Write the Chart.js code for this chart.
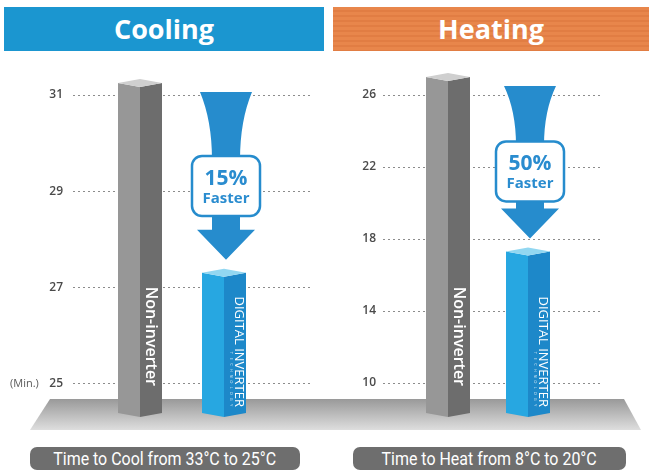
<!DOCTYPE html>
<html>
<head>
<meta charset="utf-8">
<script src="https://cdn.jsdelivr.net/npm/chart.js@4.4.0/dist/chart.umd.min.js"></script>
<style>
  body { margin: 0; background: #fff; }
  #wrap { position: relative; width: 649px; height: 470px; overflow: hidden; font-family: "Open Sans", sans-serif; }
  .head { position: absolute; top: 7px; height: 44px; color: #fff; font-weight: 700; font-size: 27px; line-height: 43px; text-align: center; }
  #cool-head { left: 4px; width: 320px; background: #1b96d0; }
  #heat-head { left: 333px; width: 316px; background: repeating-linear-gradient(180deg, #e8864b 0 3px, #e17d43 3px 5px); }
  #floor { position: absolute; left: 0; top: 399px; width: 649px; height: 31px;
    background: linear-gradient(#999, #dedede);
    clip-path: polygon(50px 0, 624px 0, 641px 100%, 30px 100%); }
  .caption { position: absolute; top: 447px; height: 23px; border-radius: 7px; background: #6e6e6e; color: #fff;
    font-family: "Liberation Sans Narrow", "Roboto", sans-serif; font-size: 19px; line-height: 23px; text-align: center; white-space: nowrap; }
  .caption span { display: inline-block; transform: scaleX(0.84); }
  #cool-cap { left: 30px; width: 270px; }
  #heat-cap { left: 353px; width: 273px; }
  canvas { position: absolute; left: 0; top: 0; }
</style>
</head>
<body>
<div id="wrap">
  <div class="head" id="cool-head">Cooling</div>
  <div class="head" id="heat-head">Heating</div>
  <div id="floor"></div>
  <div class="caption" id="cool-cap"><span>Time to Cool from 33°C to 25°C</span></div>
  <div class="caption" id="heat-cap"><span>Time to Heat from 8°C to 20°C</span></div>
  <canvas id="coolChart" width="649" height="470"></canvas>
  <canvas id="heatChart" width="649" height="470"></canvas>
</div>
<script>
var barLabels = ["Non-inverter", "DIGITAL INVERTER"];
var coolValues = [31.25, 27.3];
var heatValues = [27.0, 17.3];
var coolTicks = [25, 27, 29, 31];
var heatTicks = [10, 14, 18, 22, 26];
var fasterLabels = ["15%", "50%"];
var fasterWord = "Faster";
var unitLabel = "(Min.)";
var subBrand = "TECHNOLOGY";

Chart.defaults.font.family = "'Open Sans', sans-serif";

function drawArrow(ctx, cx, yTop, yTip, pct) {
  var H = yTip - yTop;
  var boxTop = yTop + 0.56 * H - 30;
  var headBase = yTip - 30;
  var blue = "#268ccd";
  ctx.save();
  ctx.fillStyle = blue;
  ctx.beginPath();
  ctx.moveTo(cx - 26, yTop);
  ctx.lineTo(cx + 26, yTop);
  ctx.quadraticCurveTo(cx + 14, yTop + (boxTop - yTop) * 0.45, cx + 14, boxTop + 4);
  ctx.lineTo(cx + 14, headBase);
  ctx.lineTo(cx + 29, headBase);
  ctx.lineTo(cx, yTip);
  ctx.lineTo(cx - 29, headBase);
  ctx.lineTo(cx - 14, headBase);
  ctx.lineTo(cx - 14, boxTop + 4);
  ctx.quadraticCurveTo(cx - 14, yTop + (boxTop - yTop) * 0.45, cx - 26, yTop);
  ctx.closePath();
  ctx.fill();

  ctx.beginPath();
  ctx.roundRect(cx - 34, boxTop, 68, 60, 10);
  ctx.fillStyle = "#fff";
  ctx.fill();
  ctx.lineWidth = 2.5;
  ctx.strokeStyle = blue;
  ctx.stroke();

  ctx.fillStyle = "#2a8ccf";
  ctx.textAlign = "center";
  ctx.textBaseline = "alphabetic";
  ctx.font = "700 21px 'Open Sans'";
  ctx.fillText(pct, cx, boxTop + 29);
  ctx.font = "700 15px 'Open Sans'";
  ctx.fillText(fasterWord, cx, boxTop + 47);
  ctx.restore();
}

var prismPlugin = {
  id: "prism",
  beforeDatasetsDraw: function (chart, args, opts) {
    var ctx = chart.ctx;
    var y = chart.scales.y;
    ctx.save();
    ctx.strokeStyle = "#8c8c8c";
    ctx.lineWidth = 1;
    ctx.setLineDash([2, 3]);
    y.ticks.forEach(function (t) {
      var py = Math.round(y.getPixelForValue(t.value)) + 0.5;
      ctx.beginPath();
      ctx.moveTo(opts.gridFrom, py);
      ctx.lineTo(opts.gridTo, py);
      ctx.stroke();
    });
    ctx.setLineDash([]);
    if (opts.unit) {
      ctx.fillStyle = "#5a5a5a";
      ctx.font = "11px 'Open Sans'";
      ctx.textAlign = "left";
      ctx.textBaseline = "middle";
      ctx.fillText(opts.unit, 10, y.getPixelForValue(y.ticks[0].value));
    }
    ctx.restore();
  },
  afterDatasetsDraw: function (chart, args, opts) {
    var ctx = chart.ctx;
    var bars = chart.getDatasetMeta(0).data;
    var faces = [["#979797", "#6d6d6d", "#cfcfcf"], ["#27a7e1", "#1d88c9", "#92d7f1"]];
    var d = 4;
    bars.forEach(function (bar, i) {
      var p = bar.getProps(["x", "y", "base", "width"], true);
      var x0 = p.x - p.width / 2, x1 = p.x + p.width / 2, xc = p.x;
      ctx.save();
      ctx.fillStyle = faces[i][0];
      ctx.beginPath();
      ctx.moveTo(x0, p.y); ctx.lineTo(xc, p.y + d); ctx.lineTo(xc, p.base); ctx.lineTo(x0, p.base - d);
      ctx.closePath(); ctx.fill();
      ctx.fillStyle = faces[i][1];
      ctx.beginPath();
      ctx.moveTo(xc, p.y + d); ctx.lineTo(x1, p.y); ctx.lineTo(x1, p.base - d); ctx.lineTo(xc, p.base);
      ctx.closePath(); ctx.fill();
      ctx.fillStyle = faces[i][2];
      ctx.beginPath();
      ctx.moveTo(x0, p.y); ctx.lineTo(xc, p.y - d); ctx.lineTo(x1, p.y); ctx.lineTo(xc, p.y + d);
      ctx.closePath(); ctx.fill();

      // label running down the right face
      ctx.fillStyle = "#fff";
      ctx.textAlign = "right";
      ctx.textBaseline = "middle";
      if (i === 0) {
        ctx.translate(xc + 10.5, p.base - 31);
        ctx.rotate(Math.PI / 2);
        ctx.font = "600 16px 'Open Sans'";
        ctx.fillText(chart.data.labels[i], 0, 0);
      } else {
        ctx.translate(xc + 15, p.base - 10);
        ctx.rotate(Math.PI / 2);
        ctx.font = "13px 'Open Sans'";
        ctx.fillText(chart.data.labels[i], 0, 0);
        ctx.font = "4px 'Open Sans'";
        ctx.fillStyle = "rgba(255,255,255,0.8)";
        ctx.textAlign = "center";
        for (var k = 0; k < subBrand.length; k++) {
          ctx.fillText(subBrand[k], -2 - (subBrand.length - 1 - k) * 5.8, 7.5);
        }
      }
      ctx.restore();
    });
    drawArrow(ctx, bars[1].x + 2, bars[0].y + 9, bars[1].y - 13, opts.pct);
  }
};

function makeChart(id, values, ticks, min, max, pad, axisWidth, labelPad, extra) {
  return new Chart(document.getElementById(id), {
    type: "bar",
    data: {
      labels: barLabels,
      datasets: [{
        data: values,
        base: min,
        backgroundColor: "rgba(0,0,0,0)",
        borderWidth: 0,
        barThickness: 44
      }]
    },
    options: {
      responsive: false,
      animation: false,
      layout: { padding: pad },
      plugins: {
        legend: { display: false },
        tooltip: { enabled: false },
        prism: extra
      },
      scales: {
        x: { display: false, offset: true },
        y: {
          min: min,
          max: max,
          afterBuildTicks: function (s) {
            s.ticks = ticks.map(function (v) { return { value: v }; });
          },
          afterFit: function (s) { s.width = axisWidth; },
          grid: { display: false, drawTicks: false },
          border: { display: false },
          ticks: {
            padding: labelPad,
            color: "#4a4a4a",
            font: { size: 12, weight: "600" }
          }
        }
      }
    },
    plugins: [prismPlugin]
  });
}

makeChart("coolChart", coolValues, coolTicks, 24.3, 31.5,
  { top: 71, bottom: 53, left: 0, right: 383 }, 98, 35,
  { gridFrom: 73, gridTo: 310, unit: unitLabel, pct: fasterLabels[0] });

makeChart("heatChart", heatValues, heatTicks, 8.1, 28,
  { top: 59, bottom: 53, left: 0, right: 81 }, 408, 32,
  { gridFrom: 383, gridTo: 600, unit: null, pct: fasterLabels[1] });
</script>
</body>
</html>
